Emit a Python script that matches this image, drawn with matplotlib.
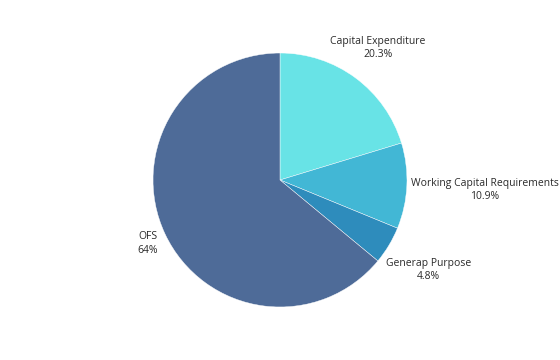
import matplotlib
matplotlib.use("Agg")
import matplotlib.pyplot as plt

# data
labels = ["Capital Expenditure", "Working Capital Requirements", "Generap Purpose", "OFS"]
values = [20.3, 10.9, 4.8, 64]
pct_text = ["20.3%", "10.9%", "4.8%", "64%"]
colors = ["#68E3E6", "#42B7D5", "#2E8CBC", "#4E6B98"]

# label centres (in pie radius units)
label_pos = [(0.77, 1.04), (1.61, -0.08), (1.17, -0.71), (-1.04, -0.50)]

plt.rcParams['font.family'] = ['Open Sans', 'DejaVu Sans']

fig = plt.figure(figsize=(5.6, 3.6), dpi=100)
ax = fig.add_axes([0, 0, 1, 1])

ax.pie(values, colors=colors, startangle=90, counterclock=False,
       wedgeprops=dict(edgecolor="white", linewidth=0.3))

for name, pct, (x, y) in zip(labels, pct_text, label_pos):
    ax.text(x, y, name + "\n" + pct, ha="center", va="center",
            fontsize=7.5, color="#2a2a2a", linespacing=1.3)

ax.set_xlim(-2.205, 2.205)
ax.set_ylim(-1.417, 1.417)
ax.set_aspect("equal")
ax.axis("off")

fig.savefig("out.png", dpi=100, facecolor="white")
